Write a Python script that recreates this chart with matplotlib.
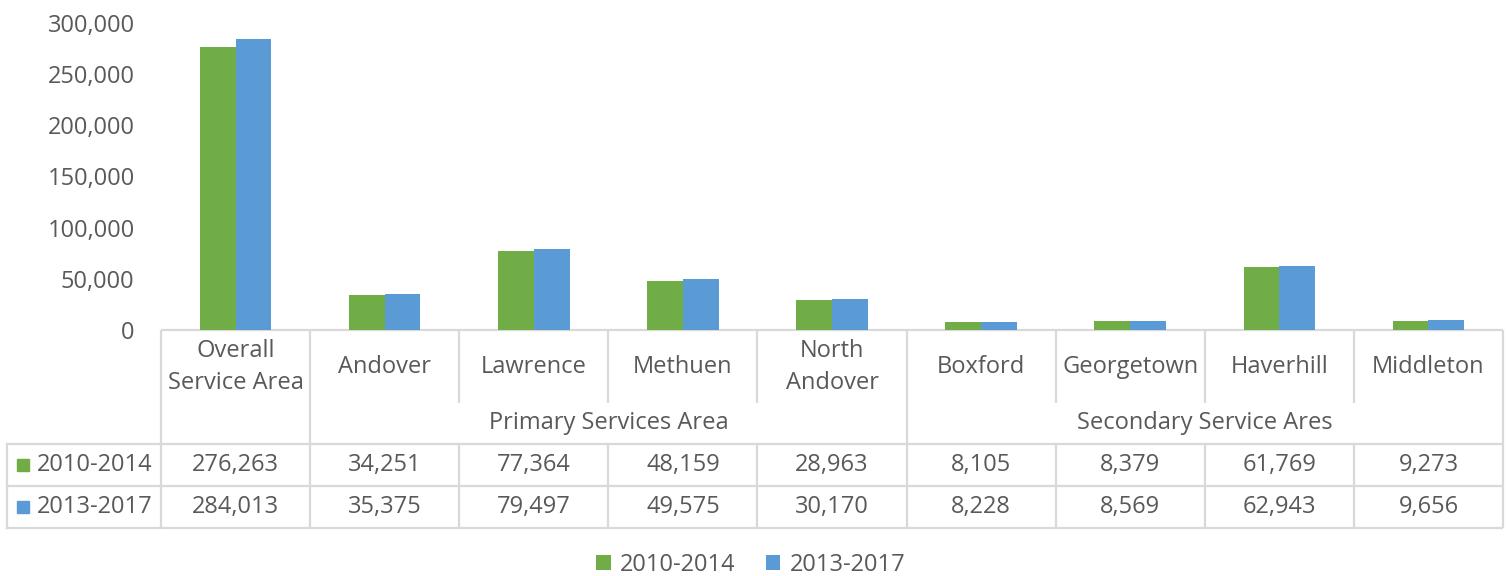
import matplotlib.pyplot as plt
import matplotlib.transforms as mtransforms
from matplotlib.patches import Rectangle

# Categories and groups
categories = ['Overall\nService Area', 'Andover', 'Lawrence', 'Methuen', 'North\nAndover',
              'Boxford', 'Georgetown', 'Haverhill', 'Middleton']
groups = [('Primary Services Area', 1, 4), ('Secondary Service Ares', 5, 8)]

# Series values
series_names = ['2010-2014', '2013-2017']
values_2010_2014 = [276263, 34251, 77364, 48159, 28963, 8105, 8379, 61769, 9273]
values_2013_2017 = [284013, 35375, 79497, 49575, 30170, 8228, 8569, 62943, 9656]

yticks = [0, 50000, 100000, 150000, 200000, 250000, 300000]

green = '#70AD47'
blue = '#5B9BD5'
text_color = '#595959'
line_color = '#D9D9D9'

plt.rcParams['font.family'] = ['Open Sans', 'DejaVu Sans']
fs = 17

W, H = 1507, 576
fig = plt.figure(figsize=(W / 100, H / 100), dpi=100)

# overlay in pixel coordinates for the table
ov = fig.add_axes([0, 0, 1, 1], zorder=0)
ov.set_xlim(0, W)
ov.set_ylim(H, 0)
ov.axis('off')

# bar axes
left, right, top, base = 161, 1503, 23, 330
ax = fig.add_axes([left / W, (H - base) / H, (right - left) / W, (base - top) / H], zorder=1)
ax.patch.set_alpha(0)
n = len(categories)
x = list(range(n))
bw = 0.24
b1 = ax.bar([i - bw / 2 for i in x], values_2010_2014, bw, color=green, label=series_names[0])
b2 = ax.bar([i + bw / 2 for i in x], values_2013_2017, bw, color=blue, label=series_names[1])
ax.set_xlim(-0.5, n - 0.5)
ax.set_ylim(0, 300000)
ax.set_yticks(yticks)
ax.set_yticklabels([f'{v:,}' for v in yticks], fontsize=fs, color=text_color)
ax.set_xticks([])
ax.tick_params(axis='y', length=0, pad=19)
for s in ax.spines.values():
    s.set_visible(False)

# table
tr = mtransforms.blended_transform_factory(ax.transData, ov.transData)
lw = 1.6
y_top, y_grp, y_r1, y_r2, y_bot = 330, 403, 444, 486, 528
xl = -0.5
xr = n - 0.5
kw = dict(color=line_color, lw=lw, transform=tr, solid_capstyle='butt')

ov.plot([xl, xr], [y_top, y_top], **kw)
ov.plot([xl, xr], [y_r1, y_r1], **kw)
ov.plot([xl, xr], [y_r2, y_r2], **kw)
ov.plot([xl, xr], [y_bot, y_bot], **kw)
# row label area on the left (pixel coords)
ov.plot([7, left], [y_r1, y_r1], color=line_color, lw=lw)
ov.plot([7, left], [y_r2, y_r2], color=line_color, lw=lw)
ov.plot([7, left], [y_bot, y_bot], color=line_color, lw=lw)
ov.plot([7, 7], [y_r1, y_bot], color=line_color, lw=lw)

group_edges = {-0.5, n - 0.5}
for name, a, b in groups:
    group_edges.add(a - 0.5)
    group_edges.add(b + 0.5)
for i in range(n + 1):
    xb = i - 0.5
    ov.plot([xb, xb], [y_top, y_grp], **kw)
    ov.plot([xb, xb], [y_r1, y_bot], **kw)
    if xb in group_edges:
        ov.plot([xb, xb], [y_grp, y_r1], **kw)

for i, c in enumerate(categories):
    ov.text(i, 367, c, transform=tr, ha='center', va='center', fontsize=fs,
            color=text_color, linespacing=1.4)
for name, a, b in groups:
    ov.text((a + b) / 2, 423, name, transform=tr, ha='center', va='center',
            fontsize=fs, color=text_color)

rows = [values_2010_2014, values_2013_2017]
colors = [green, blue]
for r, (vals, col, nm) in enumerate(zip(rows, colors, series_names)):
    yc = (y_r1 + y_r2) / 2 + r * (y_r2 - y_r1)
    ov.add_patch(Rectangle((17, yc - 6), 12, 12, color=col))
    ov.text(37, yc, nm, ha='left', va='center', fontsize=fs, color=text_color)
    for i, v in enumerate(vals):
        ov.text(i, yc, f'{v:,}', transform=tr, ha='center', va='center',
                fontsize=fs, color=text_color)

fig.legend(handles=[b1, b2], loc='center', bbox_to_anchor=(751 / W, 1 - 565 / H),
           ncol=2, frameon=False, fontsize=fs, labelcolor=text_color,
           handlelength=0.6, handleheight=0.6, handletextpad=0.4, columnspacing=1.3)

fig.savefig('out.png', dpi=100)
